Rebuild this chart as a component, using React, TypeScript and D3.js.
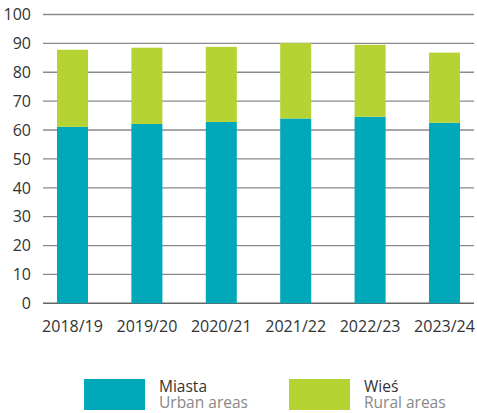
import React from "react";
import * as d3 from "d3";

const categories = ["2018/19", "2019/20", "2020/21", "2021/22", "2022/23", "2023/24"];
const urban = [61.1, 62.1, 62.8, 64.0, 64.6, 62.5];
const rural = [26.7, 26.4, 26.0, 26.1, 24.9, 24.3];
const yTicks = [0, 10, 20, 30, 40, 50, 60, 70, 80, 90, 100];
const seriesNames = ["Miasta", "Wieś"];
const seriesSub = ["Urban areas", "Rural areas"];
const colors = ["#00A8BA", "#B6D334"];

export default function App() {
  const W = 477, H = 413;
  const y = d3.scaleLinear().domain([0, 100]).range([303.3, 14.5]);
  const x = d3
    .scaleBand()
    .domain(categories)
    .range([35.3, 481.7])
    .paddingInner(0.583)
    .paddingOuter(0.2915);
  const gridX0 = 43, gridX1 = 474;
  const font = "'Open Sans', 'Noto Sans', sans-serif";
  return (
    <svg width={W} height={H} style={{ position: "absolute", left: 0, top: 0 }}>
      {yTicks.map((t) => (
        <g key={t}>
          <line x1={gridX0} x2={gridX1} y1={y(t)} y2={y(t)} stroke={t === 0 ? "#666" : "#8a8a8a"} strokeWidth={t === 0 ? 1.6 : 1.3} />
          <text x={31} y={y(t)} dy="0.36em" textAnchor="end" fontFamily={font} fontSize={16} fill="#333">{t}</text>
        </g>
      ))}
      {categories.map((c, i) => (
        <g key={c}>
          <rect x={x(c)} width={x.bandwidth()} y={y(urban[i])} height={y(0) - y(urban[i])} fill={colors[0]} />
          <rect x={x(c)} width={x.bandwidth()} y={y(urban[i] + rural[i])} height={y(urban[i]) - y(urban[i] + rural[i])} fill={colors[1]} />
          <text x={(x(c) as number) + x.bandwidth() / 2} y={332} textAnchor="middle" fontFamily={font} fontSize={16} fill="#333">{c}</text>
        </g>
      ))}
      {seriesNames.map((s, i) => {
        const lx = 84 + i * 205;
        return (
          <g key={s}>
            <rect x={lx} y={379} width={61} height={31} fill={colors[i]} />
            <text x={lx + 75} y={392} fontFamily={font} fontSize={15.5} fill="#333">{s}</text>
            <text x={lx + 75} y={408} fontFamily={font} fontSize={15.5} fill="#888">{seriesSub[i]}</text>
          </g>
        );
      })}
    </svg>
  );
}
